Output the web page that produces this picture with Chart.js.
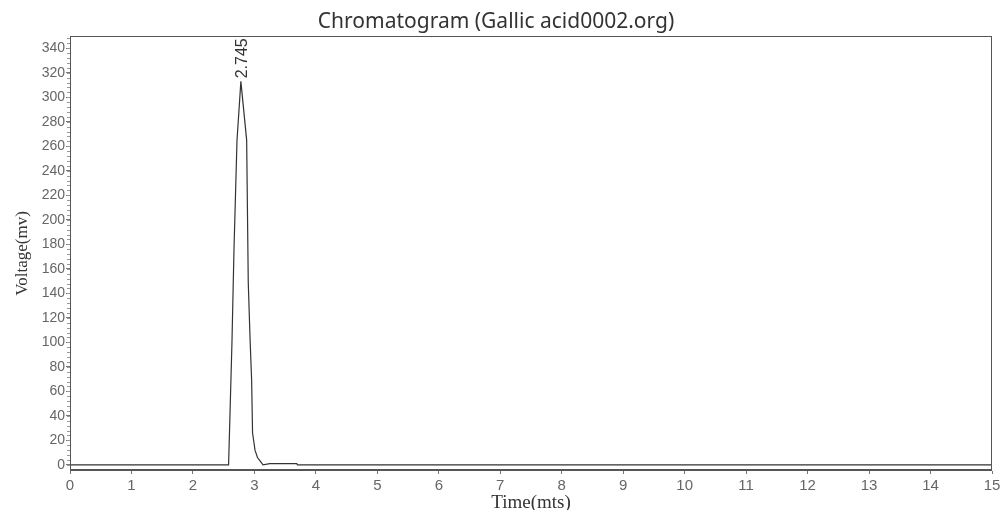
<!DOCTYPE html>
<html>
<head>
<meta charset="utf-8">
<script src="https://cdn.jsdelivr.net/npm/chart.js@4"></script>
<style>
  body { margin: 0; background: #fff; }
</style>
</head>
<body>
<canvas id="chart" width="1008" height="510"></canvas>
<script>
// signal (time in minutes, voltage in mV)
var times    = [0, 2.50, 2.58, 2.60, 2.635, 2.668, 2.717, 2.78, 2.874, 2.90, 2.93, 2.955, 2.97, 3.01, 3.05, 3.11, 3.14, 3.25, 3.69, 3.70, 15];
var voltages = [0, 0,    0,    36,   100,   176,   265,   313,  265,   149,  102,  69,    26,   12,   6,    2,    0,    1,    1,    0,    0];
var peakTime = 2.78;
var peakValue = 313;
var peakLabel = "2.745";
var xTicks = [0, 1, 2, 3, 4, 5, 6, 7, 8, 9, 10, 11, 12, 13, 14, 15];
var yTicks = [0, 20, 40, 60, 80, 100, 120, 140, 160, 180, 200, 220, 240, 260, 280, 300, 320, 340];

var sans = '"Liberation Sans", Arial, sans-serif';
var titleFont = '"Noto Sans", "Open Sans", sans-serif';
var serif = '"Liberation Serif", "Times New Roman", serif';

var points = times.map(function (t, i) { return { x: t, y: voltages[i] }; });

var extras = {
    id: 'extras',
    afterDraw: function (chart) {
        var ctx = chart.ctx;
        var a = chart.chartArea;
        var y = chart.scales.y;
        var x = chart.scales.x;
        ctx.save();
        // frame
        ctx.strokeStyle = '#555';
        ctx.lineWidth = 1;
        ctx.strokeRect(a.left + 0.5, a.top + 0.5, a.right - a.left - 1, a.bottom - a.top - 1);
        ctx.lineWidth = 2;
        ctx.beginPath();
        ctx.moveTo(a.left, a.bottom - 1);
        ctx.lineTo(a.right, a.bottom - 1);
        ctx.stroke();
        // minor ticks on the y axis
        ctx.lineWidth = 1;
        ctx.strokeStyle = '#999';
        ctx.beginPath();
        for (var v = 0; v <= 348; v += 4) {
            var py = Math.round(y.getPixelForValue(v)) + 0.5;
            ctx.moveTo(a.left - 3, py);
            ctx.lineTo(a.left, py);
        }
        ctx.stroke();
        // peak label
        var px = x.getPixelForValue(peakTime) + 2;
        var pyTop = y.getPixelForValue(peakValue);
        ctx.translate(px, pyTop - 3);
        ctx.rotate(-Math.PI / 2);
        ctx.fillStyle = '#333';
        ctx.font = '16px ' + sans;
        ctx.textAlign = 'left';
        ctx.textBaseline = 'middle';
        ctx.fillText(peakLabel, 0, 0);
        ctx.restore();
    }
};

new Chart(document.getElementById('chart'), {
    type: 'scatter',
    data: {
        datasets: [{
            data: points,
            showLine: true,
            borderColor: '#333',
            borderWidth: 1.2,
            pointRadius: 0,
            tension: 0
        }]
    },
    options: {
        responsive: false,
        animation: false,
        layout: { padding: { left: 0, right: 16, top: 0, bottom: 0 } },
        plugins: {
            legend: { display: false },
            tooltip: { enabled: false },
            title: {
                display: true,
                text: 'Chromatogram (Gallic acid0002.org)',
                color: '#333',
                font: { size: 21, family: titleFont, weight: 'normal', lineHeight: 1.2 },
                padding: { top: 9, bottom: 1.8 }
            }
        },
        scales: {
            x: {
                type: 'linear',
                min: 0,
                max: 15,
                afterBuildTicks: function (s) { s.ticks = xTicks.map(function (v) { return { value: v }; }); },
                afterFit: function (s) { s.height = 39; },
                grid: { display: true, drawOnChartArea: false, drawTicks: true, tickLength: 3, color: '#777' },
                border: { display: false },
                ticks: { color: '#666', font: { size: 15, family: sans }, padding: 3, maxRotation: 0 },
                title: {
                    display: true,
                    text: 'Time(mts)',
                    color: '#333',
                    font: { size: 19, family: serif },
                    padding: { top: -6, bottom: -4 }
                }
            },
            y: {
                min: -5,
                max: 350,
                afterBuildTicks: function (s) { s.ticks = yTicks.map(function (v) { return { value: v }; }); },
                afterFit: function (s) { s.width = 70; },
                grid: { display: true, drawOnChartArea: false, drawTicks: true, tickLength: 4, color: '#777' },
                border: { display: false },
                ticks: { color: '#666', font: { size: 14, family: sans }, padding: 1 },
                title: {
                    display: true,
                    text: 'Voltage(mv)',
                    color: '#333',
                    font: { size: 17, family: serif },
                    padding: { top: 12, bottom: 0 }
                }
            }
        }
    },
    plugins: [extras]
});
</script>
</body>
</html>
